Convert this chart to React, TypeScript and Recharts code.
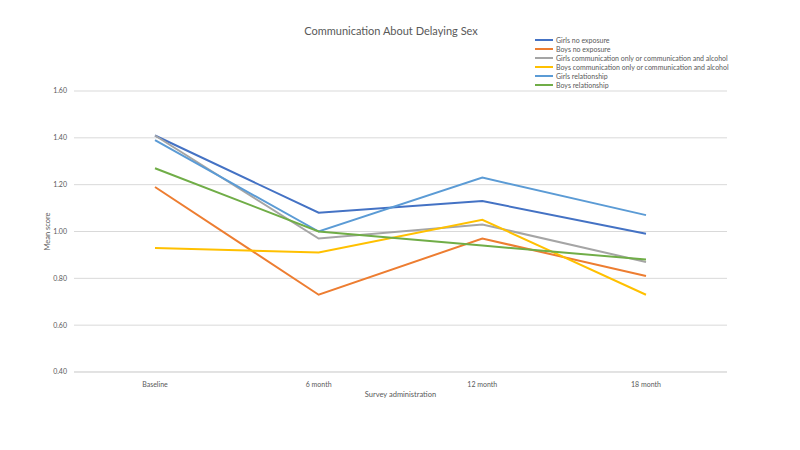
import React from "react";
import { LineChart, Line, XAxis, YAxis, CartesianGrid } from "recharts";

const categories = ["Baseline", "6 month", "12 month", "18 month"];
const girlsNoExposure = [1.41, 1.08, 1.13, 0.99];
const boysNoExposure = [1.19, 0.73, 0.97, 0.81];
const girlsComm = [1.41, 0.97, 1.03, 0.87];
const boysComm = [0.93, 0.91, 1.05, 0.73];
const girlsRel = [1.39, 1.0, 1.23, 1.07];
const boysRel = [1.27, 1.0, 0.94, 0.88];
const yTicks = [0.4, 0.6, 0.8, 1.0, 1.2, 1.4, 1.6];

const series = [
  { key: "gne", name: "Girls no exposure", values: girlsNoExposure, color: "#4472C4" },
  { key: "bne", name: "Boys no exposure", values: boysNoExposure, color: "#ED7D31" },
  { key: "gc", name: "Girls communication only or communication and alcohol", values: girlsComm, color: "#A5A5A5" },
  { key: "bc", name: "Boys communication only or communication and alcohol", values: boysComm, color: "#FFC000" },
  { key: "gr", name: "Girls relationship", values: girlsRel, color: "#5B9BD5" },
  { key: "br", name: "Boys relationship", values: boysRel, color: "#70AD47" },
];

const data = categories.map((c, i) => {
  const row: Record<string, any> = { cat: c };
  series.forEach((s) => (row[s.key] = s.values[i]));
  return row;
});

const FONT = "Lato, 'Open Sans', sans-serif";

export default function App() {
  return (
    <div style={{ position: "absolute", left: 0, top: 0, width: 800, height: 450, background: "#fff", fontFamily: FONT }}>
      <div style={{ position: "absolute", top: 24, left: 0, width: 782, textAlign: "center", fontSize: 11, color: "#595959" }}>
        Communication About Delaying Sex
      </div>
      <div style={{ position: "absolute", left: 535, top: 35, fontSize: 7, color: "#595959", zIndex: 2 }}>
        {series.map((s) => (
          <div key={s.key} style={{ display: "flex", alignItems: "center", height: 9 }}>
            <div style={{ width: 18, height: 2, background: s.color, marginRight: 3 }} />
            <span style={{ whiteSpace: "nowrap" }}>{s.name}</span>
          </div>
        ))}
      </div>
      <LineChart width={800} height={450} data={data} margin={{ top: 91, right: 73, bottom: 48, left: 0 }}>
        <CartesianGrid vertical={false} stroke="#d9d9d9" />
        <XAxis
          dataKey="cat"
          height={30}
          padding={{ left: 81, right: 81 }}
          axisLine={{ stroke: "#d9d9d9" }}
          tickLine={false}
          tick={{ fontSize: 7, fill: "#595959", fontFamily: FONT }}
          tickMargin={4}
          label={{ value: "Survey administration", position: "insideBottom", offset: 5, fontSize: 7.5, fill: "#595959", fontFamily: FONT }}
        />
        <YAxis
          width={74}
          domain={[0.4, 1.6]}
          ticks={yTicks}
          axisLine={false}
          tickLine={false}
          tickMargin={1}
          tickFormatter={(v: number) => v.toFixed(2)}
          tick={{ fontSize: 7, fill: "#595959", fontFamily: FONT }}
          label={{ value: "Mean score", angle: -90, position: "insideLeft", offset: 47, fontSize: 7.5, fill: "#595959", fontFamily: FONT, style: { textAnchor: "middle" } }}
        />
        {series.map((s) => (
          <Line
            key={s.key}
            type="linear"
            dataKey={s.key}
            name={s.name}
            stroke={s.color}
            strokeWidth={2}
            dot={false}
            activeDot={false}
            isAnimationActive={false}
          />
        ))}
      </LineChart>
    </div>
  );
}
